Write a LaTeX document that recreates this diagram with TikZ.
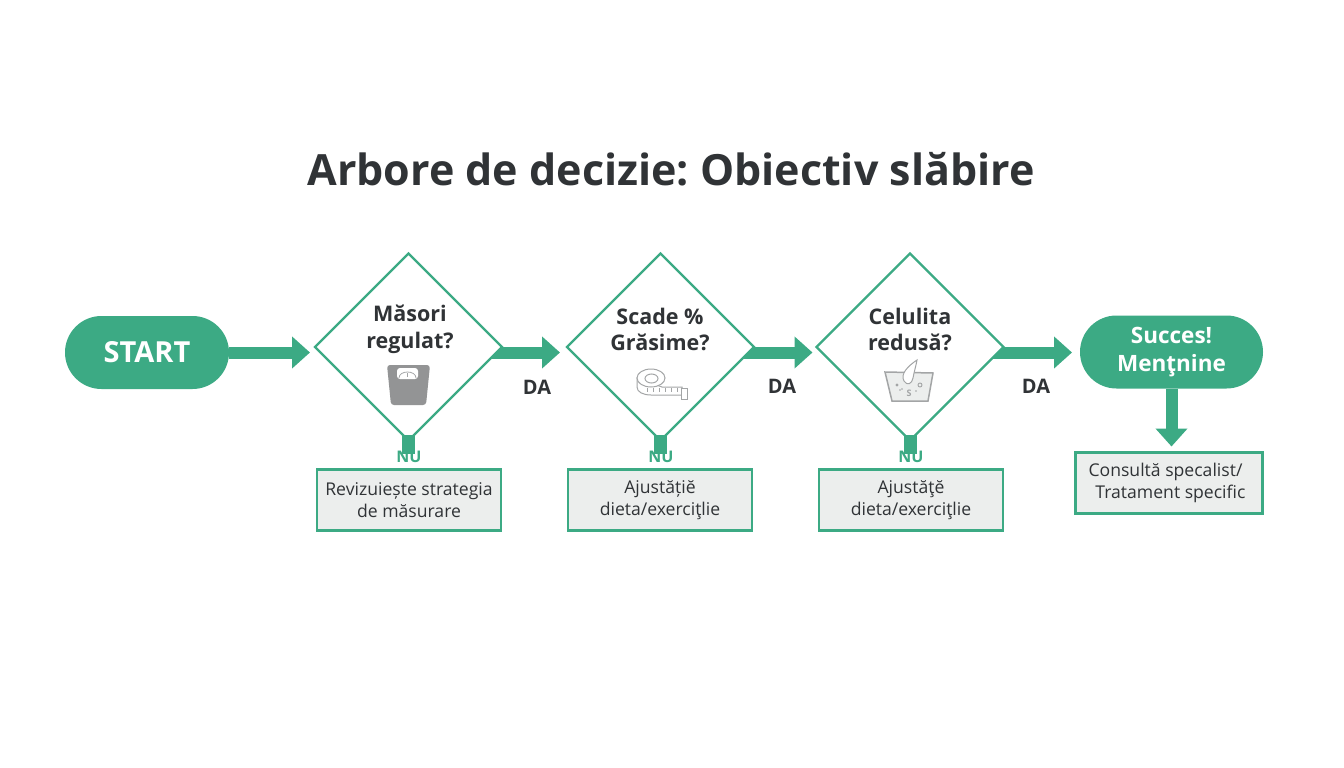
\documentclass[tikz,border=0pt]{standalone}
\usepackage{fontspec}
\setmainfont{Open Sans}
\usetikzlibrary{arrows.meta,backgrounds,shapes.geometric,shapes.misc}
\definecolor{leaf}{HTML}{3CAA84}
\definecolor{ink}{HTML}{303336}
\definecolor{panel}{HTML}{ECEEED}
\definecolor{iconGray}{HTML}{A3A5A6}
\frenchspacing
\begin{document}
\begin{tikzpicture}
		[x=1pt,y=-1pt,
		pill/.style={rounded rectangle,fill=leaf,text=white,font=\bfseries\fontsize{29}{34}\selectfont,
			align=center,inner sep=0pt,outer sep=0pt,minimum height=73pt},
		ask/.style={diamond,draw=leaf,line width=2.4pt,fill=white,inner sep=0pt,outer sep=0pt,minimum size=187pt},
		asktext/.style={font=\bfseries\fontsize{21.5}{26.5}\selectfont,text=ink,align=center,inner sep=0pt},
		todo/.style={rectangle,draw=leaf,line width=2.2pt,fill=panel,font=\fontsize{17.6}{21.5}\selectfont,text=ink,
			align=center,inner sep=0pt,outer sep=0pt,minimum height=61pt,minimum width=184pt},
		flow/.style={leaf,line width=12pt,-{Triangle[length=18pt,width=31pt]}},
		stub/.style={leaf,line width=13pt},
		da/.style={font=\bfseries\fontsize{20}{24}\selectfont,text=ink,inner sep=0pt},
		nu/.style={font=\bfseries\fontsize{16}{18}\selectfont,text=leaf,inner sep=0pt},
		icon/.style={iconGray,line width=1pt}]

		\useasboundingbox (0,0) rectangle (1344,768);

		\node[font=\bfseries\fontsize{43}{50}\selectfont,text=ink,inner sep=0pt] (title) at (671,169.5)
		{Arbore de decizie: Obiectiv slăbire};

		% main row
		\node[pill,minimum width=164pt] (start) at (147,352.5) {START};
		\node[ask] (ask1) at (408.5,347) {};
		\node[ask] (ask2) at (660.5,347) {};
		\node[ask] (ask3) at (910,347) {};
		\node[pill,minimum width=183pt,font=\bfseries\fontsize{22.5}{28}\selectfont] (succes) at (1171.5,352) {Succes!\\Menţnine};

		% boxes under the row
		\node[todo] (fix1) at (409,500) {Revizuiește strategia\\de măsurare};
		\node[todo] (fix2) at (660,500) {Ajustățiĕ\\dieta/exerciţlie};
		\node[todo] (fix3) at (911,500) {Ajustăţĕ\\dieta/exerciţlie};
		\node[todo,minimum width=187pt,align=right] (fix4) at (1169,483) {Consultă specalist/\hspace*{7pt}\\Tratament specific\hspace*{4pt}};

		% connectors
		\begin{pgfonlayer}{background}
		\draw[flow,shorten >=5pt] (start.east) -- (ask1.west |- start.east);
		\draw[flow,shorten >=7pt] (ask1.center |- start.east) -- (ask2.west |- start.east);
		\draw[flow,shorten >=4pt] (ask2.center |- start.east) -- (ask3.west |- start.east);
		\draw[flow,shorten >=8pt] (ask3.center |- start.east) -- (succes.west |- start.east);
		\draw[flow,shorten >=6pt] (succes.south) -- (succes.south |- fix4.north);
		\end{pgfonlayer}
		\draw[stub,shorten <=-6pt,shorten >=16pt] (ask1.south) -- (fix1.north -| ask1.south);
		\draw[stub,shorten <=-6pt,shorten >=16pt] (ask2.south) -- (fix2.north -| ask2.south);
		\draw[stub,shorten <=-6pt,shorten >=16pt] (ask3.south) -- (fix3.north -| ask3.south);

		\node[asktext] (q1) at (410,329.5) {Măsori\\regulat?};
		\node[asktext] (q2) at (660,329.5) {Scade \%\\Grăsime?};
		\node[asktext] (q3) at (910,329.5) {Celulita\\redusă?};

		\node[da] (da1) at (537,387) {DA};
		\node[da] (da2) at (782,386) {DA};
		\node[da] (da3) at (1036,386) {DA};
		\node[nu] (nu1) at (409,457) {NU};
		\node[nu] (nu2) at (661,457) {NU};
		\node[nu] (nu3) at (911,457) {NU};

		% scale
		\fill[iconGray!90!black,rounded corners=3pt] (387,365) -- (430,365) -- (426,405) -- (391,405) -- cycle;
		\fill[white,rounded corners=3pt] (397,368) rectangle (418,379);
		\draw[iconGray,line width=.8pt] (399,378) .. controls (399,370) and (416,370) .. (416,378);
		\draw[iconGray,line width=.8pt] (407.5,373) -- (407.5,377);

		% tape
		\draw[icon,fill=white] (637,378) -- (637,387) .. controls (637,392) and (643,395) .. (651,395)
		-- (682,395) -- (682,387) -- (662,387) -- cycle;
		\draw[icon,fill=white] (651,378) ellipse (14 and 9);
		\draw[icon] (651.5,378.5) ellipse (6.5 and 4.5);
		\draw[icon,fill=white] (681,388) rectangle (687,399);
		\foreach \tick in {647,653,...,677} \draw[iconGray,line width=.7pt] (\tick,388) -- (\tick,392);

		% skin
		\draw[icon,line width=1.5pt,fill=panel] (885,372) -- (933,373) -- (928,401) -- (892,401) -- cycle;
		\draw[icon,fill=white] (917,360) .. controls (908,366) and (900,374) .. (904,381)
		.. controls (907,386) and (912,384) .. (913,378) .. controls (914,372) and (916,366) .. (917,360) -- cycle;
		\fill[iconGray] (897,385) circle (1.6);
		\draw[iconGray,line width=.9pt] (920,385) circle (2);
		\foreach \dotx/\doty in {902/389,916/391,900/390}
		\fill[iconGray] (\dotx,\doty) circle (.9);
		\node[font=\bfseries\fontsize{9}{10}\selectfont,text=iconGray,inner sep=0pt] (skinmark) at (909,393) {S};
\end{tikzpicture}
\end{document}
